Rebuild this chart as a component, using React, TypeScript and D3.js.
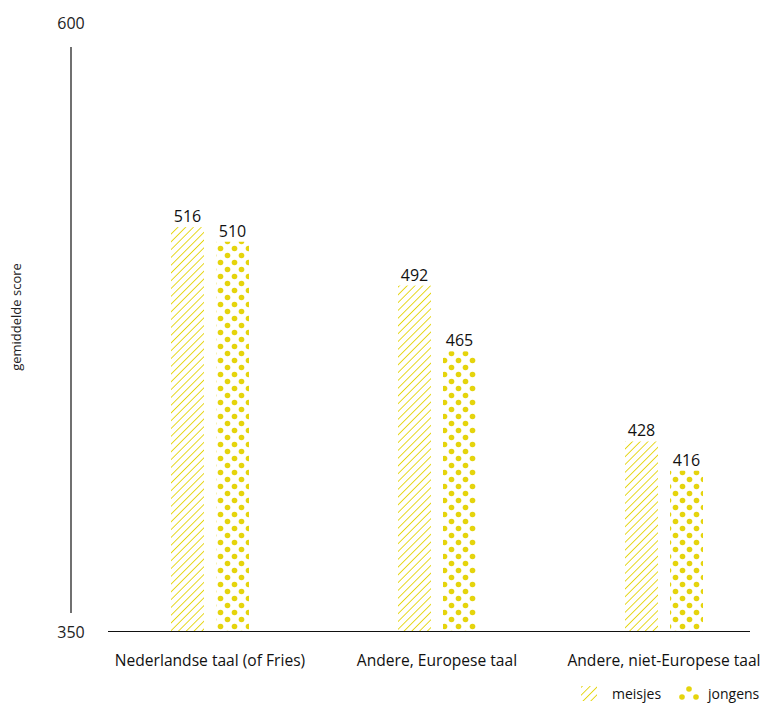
import React from "react";
import * as d3 from "d3";

const categories = ["Nederlandse taal (of Fries)", "Andere, Europese taal", "Andere, niet-Europese taal"];
const meisjes = [516, 492, 428];
const jongens = [510, 465, 416];
const seriesNames = ["meisjes", "jongens"];
const yTicks = [350, 600];
const yLabel = "gemiddelde score";

const W = 767;
const H = 704;
const COLOR = "#e5d40c";
const FONT = "'Open Sans', Lato, sans-serif";

export default function App() {
  const y = d3.scaleLinear().domain([350, 600]).range([631.5, 22.5]);
  const x = d3.scaleBand<string>().domain(categories).range([96.5, 777.5]).padding(0);
  const barW = 33;
  const gap = 12;

  return (
    <svg width={W} height={H} style={{ position: "absolute", left: 0, top: 0, fontFamily: FONT }}>
      <defs>
        <pattern id="hatch" patternUnits="userSpaceOnUse" width={5.5} height={5.5} patternTransform="rotate(45)">
          <rect width={5.5} height={5.5} fill="white" />
          <line x1={0} y1={0} x2={0} y2={5.5} stroke={COLOR} strokeWidth={1.8} />
        </pattern>
        <pattern id="dots" patternUnits="userSpaceOnUse" width={14} height={14} x={0} y={0}>
          <rect width={14} height={14} fill="white" />
          <circle cx={3.5} cy={3.5} r={2.8} fill={COLOR} />
          <circle cx={10.5} cy={10.5} r={2.8} fill={COLOR} />
        </pattern>
      </defs>

      {/* y axis */}
      <line x1={71} x2={71} y1={47} y2={613} stroke="#111" strokeWidth={1.2} />
      {yTicks.map((t) => (
        <text key={t} x={71} y={y(t) + 6} textAnchor="middle" fontSize={16} fill="#222">
          {t}
        </text>
      ))}
      <text
        transform={`translate(21, 317) rotate(-90)`}
        textAnchor="middle"
        fontSize={13}
        fill="#222"
      >
        {yLabel}
      </text>

      {/* bars */}
      {categories.map((c, i) => {
        const cx = (x(c) ?? 0) + x.bandwidth() / 2;
        const mx = cx - gap / 2 - barW;
        const jx = cx + gap / 2;
        return (
          <g key={c}>
            <rect x={mx} y={y(meisjes[i])} width={barW} height={y(350) - y(meisjes[i])} fill="url(#hatch)" />
            <rect x={jx} y={y(jongens[i])} width={barW} height={y(350) - y(jongens[i])} fill="url(#dots)" />
            <text x={mx + barW / 2} y={y(meisjes[i]) - 5} textAnchor="middle" fontSize={16} fill="#111">
              {meisjes[i]}
            </text>
            <text x={jx + barW / 2} y={y(jongens[i]) - 5} textAnchor="middle" fontSize={16} fill="#111">
              {jongens[i]}
            </text>
            <text x={cx} y={666} textAnchor="middle" fontSize={15.6} fill="#111">
              {c}
            </text>
          </g>
        );
      })}

      {/* baseline */}
      <line x1={108} x2={750} y1={631.5} y2={631.5} stroke="#111" strokeWidth={1.2} />

      {/* legend */}
      <g>
        <rect x={581} y={686} width={16} height={15} fill="url(#hatch)" />
        <text x={612} y={699} fontSize={14} fill="#111">{seriesNames[0]}</text>
        <circle cx={689} cy={689} r={2.8} fill={COLOR} />
        <circle cx={682} cy={697} r={2.8} fill={COLOR} />
        <circle cx={696} cy={697} r={2.8} fill={COLOR} />
        <text x={708} y={699} fontSize={14} fill="#111">{seriesNames[1]}</text>
      </g>
    </svg>
  );
}
